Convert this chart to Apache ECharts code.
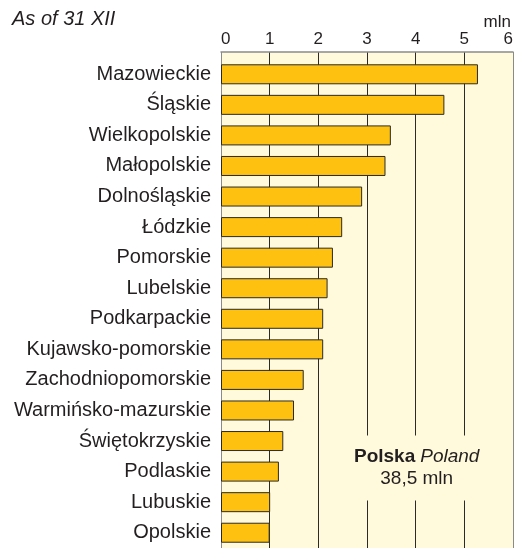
<!DOCTYPE html>
<html>
<head>
<meta charset="utf-8">
<script src="https://cdn.jsdelivr.net/npm/echarts@6/dist/echarts.min.js"></script>
<style>
html, body { margin: 0; padding: 0; background: #fff; }
#chart { width: 521px; height: 548px; }
</style>
</head>
<body>
<div id="chart"></div>
<script>
var myChart = echarts.init(document.getElementById('chart'));

// voivodeships, largest first
var regions = ['Mazowieckie', 'Śląskie', 'Wielkopolskie', 'Małopolskie', 'Dolnośląskie',
    'Łódzkie', 'Pomorskie', 'Lubelskie', 'Podkarpackie', 'Kujawsko-pomorskie',
    'Zachodniopomorskie', 'Warmińsko-mazurskie', 'Świętokrzyskie', 'Podlaskie',
    'Lubuskie', 'Opolskie'];
// population, mln
var population = [5.28, 4.59, 3.49, 3.38, 2.90, 2.49, 2.30, 2.19, 2.10, 2.10,
    1.70, 1.50, 1.28, 1.19, 1.01, 1.00];
var ticks = ['0', '1', '2', '3', '4', '5', '6'];

var font = '"Liberation Sans", Arial, Helvetica, sans-serif';
var ink = '#231F20';
var cream = '#FFFADC';
var lineColors = ['#8a8a8a', '#2a2a2a', '#2a2a2a', '#2a2a2a', '#2a2a2a', '#2a2a2a', '#8a8a8a'];

var option = {
    backgroundColor: '#fff',
    animation: false,
    textStyle: { fontFamily: font, color: ink },
    title: [{
        text: 'As of 31 XII',
        left: 7,
        top: 4,
        textStyle: { fontSize: 20, fontStyle: 'italic', fontWeight: 'normal', color: ink, fontFamily: font }
    }, {
        text: 'mln',
        right: 5,
        top: 9,
        textStyle: { fontSize: 17, fontWeight: 'normal', color: ink, fontFamily: font }
    }, {
        text: '{b|Polska} {i|Poland}\n{n|38,5 mln}',
        left: 345,
        top: 434,
        padding: [12, 9, 12, 9],
        backgroundColor: cream,
        textStyle: {
            fontWeight: 'normal',
            rich: {
                b: { fontSize: 19, fontWeight: 'bold', color: ink, fontFamily: font, lineHeight: 22, align: 'center' },
                i: { fontSize: 19, fontStyle: 'italic', fontWeight: 'normal', color: ink, fontFamily: font, lineHeight: 22, align: 'center' },
                n: { fontSize: 19, fontWeight: 'normal', color: ink, fontFamily: font, lineHeight: 22, align: 'center' }
            }
        }
    }],
    grid: [{
        // thin strip above first bar, carries the top scale
        left: 221, right: 8, top: 52, height: 7,
        show: true, backgroundColor: cream, borderWidth: 0
    }, {
        left: 221, right: 8, top: 59, height: 490,
        show: true, backgroundColor: cream, borderWidth: 0
    }],
    xAxis: [{
        gridIndex: 0,
        type: 'value',
        position: 'top',
        min: 0, max: 6, interval: 1,
        axisLine: { show: true, lineStyle: { color: '#8a8a8a', width: 1.5 } },
        axisTick: { show: false },
        axisLabel: {
            margin: 4, fontSize: 17, color: ink, fontFamily: font,
            alignMinLabel: 'left', alignMaxLabel: 'right',
            formatter: function (v) { return ticks[v]; }
        },
        splitLine: { show: true, lineStyle: { color: lineColors, width: 1 } }
    }, {
        gridIndex: 1,
        type: 'value',
        min: 0, max: 6, interval: 1,
        axisLine: { show: false },
        axisTick: { show: false },
        axisLabel: { show: false },
        splitLine: { show: true, lineStyle: { color: lineColors, width: 1 } }
    }],
    yAxis: [{
        gridIndex: 0,
        type: 'category',
        data: [''],
        axisLine: { show: false },
        axisTick: { show: false },
        axisLabel: { show: false }
    }, {
        gridIndex: 1,
        type: 'category',
        inverse: true,
        data: regions,
        axisLine: { show: false },
        axisTick: { show: false },
        axisLabel: { margin: 10, fontSize: 20, color: ink, fontFamily: font }
    }],
    series: [{
        type: 'bar',
        xAxisIndex: 1,
        yAxisIndex: 1,
        data: population,
        barWidth: 20,
        itemStyle: { color: '#FEC10F', borderColor: '#2a2a2a', borderWidth: 1 }
    }]
};
myChart.setOption(option);
</script>
</body>
</html>
